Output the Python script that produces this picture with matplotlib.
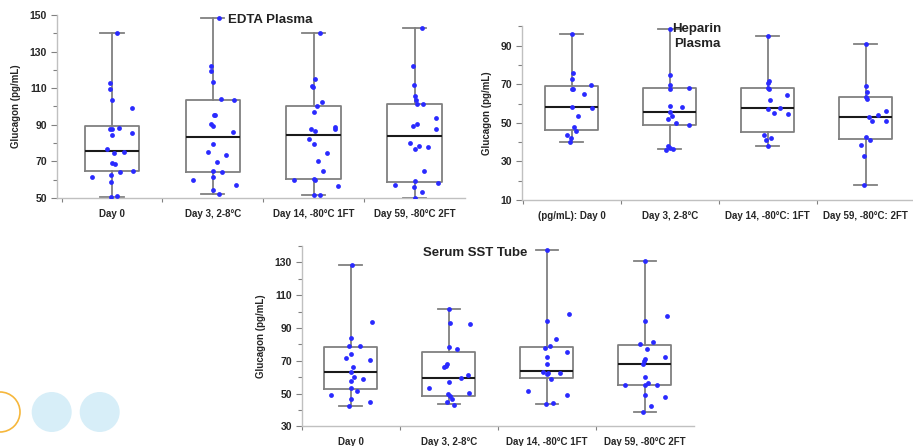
import matplotlib
matplotlib.use("Agg")
import matplotlib.pyplot as plt
from matplotlib.patches import Circle
from matplotlib.ticker import FixedLocator
from matplotlib import font_manager

names = {f.name for f in font_manager.fontManager.ttflist}
fam = [n for n in ['Liberation Sans Narrow', 'Liberation Sans', 'DejaVu Sans'] if n in names]
plt.rcParams['font.family'] = fam
plt.rcParams['font.weight'] = 'bold'

# ---------------- data ----------------
labels_edta = ["Day 0", "Day 3, 2-8°C", "Day 14, -80°C 1FT", "Day 59, -80°C 2FT"]
labels_hep = ["(pg/mL): Day 0", "Day 3, 2-8°C", "Day 14, -80°C: 1FT", "Day 59, -80°C: 2FT"]
labels_sst = ["Day 0", "Day 3, 2-8°C", "Day 14, -80°C 1FT", "Day 59, -80°C 2FT"]

# box stats: (min, q1, median, q3, max)
edta_box = [(50.4, 64.5, 75.8, 89.5, 140.0),
            (52.4, 64.0, 83.1, 103.6, 148.5),
            (51.5, 60.5, 84.5, 100.5, 140.0),
            (50.0, 58.9, 83.8, 101.6, 143.1)]
hep_box = [(40.1, 46.2, 58.0, 69.1, 96.3),
           (36.3, 48.8, 55.6, 67.9, 98.7),
           (37.8, 45.3, 57.5, 67.9, 95.2),
           (18.0, 41.8, 53.1, 63.2, 90.9)]
sst_box = [(42.4, 52.6, 63.1, 78.2, 128.4),
           (43.4, 48.7, 59.6, 75.1, 101.5),
           (43.4, 59.3, 63.5, 78.5, 137.5),
           (38.5, 55.0, 68.2, 79.4, 131.0)]

# individual points
edta_pts = [
    [140, 112.7, 109.8, 103.3, 99.1, 87.5, 87.5, 88.5, 84.5, 85.3, 76.7, 74.4, 75.1, 69.3, 68.4, 64.7, 64.4, 61.6, 62.5, 58.9, 51.3, 50.4],
    [148.5, 122.4, 119.6, 113.6, 104, 103.6, 95.1, 95.5, 90.5, 89.5, 86.2, 79.5, 74.9, 73.6, 69.5, 64.9, 64.2, 61.5, 59.6, 56.9, 54.2, 52.4],
    [140, 114.9, 111.3, 110.5, 102.4, 100.4, 96.9, 87.8, 86.7, 88.9, 87.6, 82.2, 79.3, 74.5, 70.4, 65, 59.8, 60.5, 60, 56.4, 51.5, 51.5],
    [143.1, 122.4, 112, 105.8, 103.6, 101.6, 101.6, 93.8, 87.6, 89.6, 90.2, 80.2, 76.9, 78.5, 77.6, 64.9, 57.3, 59.1, 58.4, 55.8, 53.3, 50],
]
edta_jit = [
    [0.05, -0.02, -0.02, 0, 0.20, -0.02, 0, 0.07, 0, 0.20, -0.05, 0.02, 0.12, 0, 0.03, 0.21, 0.08, -0.20, -0.01, -0.01, 0.05, -0.01],
    [0.06, -0.02, -0.02, 0, 0.08, 0.21, 0.01, 0.02, -0.02, 0, 0.20, 0, -0.05, 0.13, 0.04, 0, 0.09, 0, -0.20, 0.23, 0, 0.06],
    [0.06, 0.01, -0.02, -0.01, 0.08, 0.03, 0, -0.03, 0.01, 0.21, 0.21, -0.05, 0, 0.13, 0.04, 0.09, -0.20, 0, 0.01, 0.24, 0, 0.06],
    [0.07, -0.02, -0.01, 0, 0.01, 0.02, 0.08, 0.21, 0.21, -0.02, 0.02, -0.05, 0, 0.04, 0.13, 0.09, -0.19, 0, 0.23, -0.01, 0.07, 0],
]
hep_pts = [
    [96.3, 75.7, 72.8, 67.4, 67.4, 69.7, 64.8, 58, 57.8, 53.7, 47.6, 45.8, 43.7, 42.2, 40.1],
    [98.7, 75, 69.5, 67.4, 67.9, 58.7, 58, 55.4, 53.5, 52.1, 50, 48.8, 37.8, 36.8, 36.6, 36.1],
    [95.2, 71.9, 70.5, 67.9, 67.4, 64.4, 61.8, 57, 57.5, 54.9, 54.5, 43.6, 42.2, 41, 37.8],
    [90.9, 69.1, 66.2, 63.2, 62.3, 56.1, 54.3, 53.1, 51, 51, 42.7, 41.3, 38.7, 32.8, 18],
]
hep_jit = [
    [0, 0.01, 0, 0, 0.01, 0.20, 0.13, 0, 0.21, 0.06, 0.02, 0.04, -0.05, -0.01, -0.02],
    [0, 0, 0, 0, 0.20, 0, 0.13, 0, 0.02, -0.02, 0.06, 0.20, -0.02, 0, 0.03, -0.04],
    [0, 0.01, 0, 0, 0.01, 0.20, 0.02, 0, 0.13, 0.06, 0.21, -0.04, 0.03, -0.02, 0],
    [0, 0, 0.01, 0, 0.01, 0.21, 0.13, 0.03, 0.06, 0.21, 0, 0.04, -0.05, -0.02, -0.02],
]
sst_pts = [
    [128.4, 93.4, 83.8, 79, 79, 73.9, 71.8, 70.4, 66.2, 63.1, 60.2, 58.6, 57.4, 53.5, 51.7, 48.9, 44.8, 46.6, 42.4],
    [101.5, 92.8, 92.2, 78.2, 77, 68, 67, 66.3, 59.3, 61.3, 56.8, 53.4, 50.3, 49.7, 48.5, 46.5, 45, 43.2],
    [137.5, 98.5, 94.4, 83, 79, 77.9, 75.1, 72.4, 67.8, 63.3, 62.3, 61.7, 62.5, 58.8, 48.9, 44.4, 43.4, 51.7],
    [131, 97.4, 94.4, 81.4, 80, 77, 72.1, 71, 70, 68, 60.2, 56.6, 55.2, 55.2, 55.2, 48, 49.3, 42.6, 38.5],
]
sst_jit = [
    [0.01, 0.22, 0, -0.02, 0.09, 0, -0.05, 0.20, 0.02, 0, 0.03, 0.12, 0, 0, 0.06, -0.20, 0.20, 0, -0.02],
    [0, 0.01, 0.22, 0, 0.08, -0.02, -0.03, -0.05, 0.12, 0.20, 0, -0.20, 0.21, -0.01, 0.01, 0.03, -0.02, 0.05],
    [0, 0.23, 0, 0.09, 0.03, -0.02, 0.20, 0, 0, -0.04, 0.01, 0, 0.13, 0.04, 0.21, 0.06, -0.01, -0.19],
    [0, 0.22, 0, 0.08, -0.05, 0.02, 0.20, 0, -0.01, -0.02, 0, 0.03, -0.20, 0, 0.12, 0.20, 0, 0.06, -0.02],
]

# ---------------- figure ----------------
W, H = 913, 446
fig = plt.figure(figsize=(W / 100, H / 100), dpi=100)

GRAY = '#808080'
TXT = '#262626'
PT = '#2a2aff'


def panel(rect, boxes, pts, jit, labels, ylim, ystep, xlim):
    ax = fig.add_axes(rect)
    stats = []
    for (lo, q1, med, q3, hi) in boxes:
        stats.append(dict(whislo=lo, q1=q1, med=med, q3=q3, whishi=hi, fliers=[]))
    pos = list(range(1, len(boxes) + 1))
    ax.bxp(stats, positions=pos, widths=0.54, showfliers=False,
           boxprops=dict(color=GRAY, linewidth=1.3),
           whiskerprops=dict(color=GRAY, linewidth=1.3),
           capprops=dict(color=GRAY, linewidth=1.3),
           medianprops=dict(color='#1a1a1a', linewidth=1.5),
           capwidths=0.23, zorder=2)
    for i, (vals, js) in enumerate(zip(pts, jit)):
        xs = [pos[i] + j for j in js]
        ax.scatter(xs, vals, s=12, color=PT, zorder=3, linewidths=0)
    ax.set_xlim(*xlim)
    ax.set_ylim(*ylim)
    majors = list(range(ylim[0], ylim[1] + 1, ystep))
    ax.yaxis.set_major_locator(FixedLocator(majors))
    ax.yaxis.set_minor_locator(FixedLocator([m + ystep / 2 for m in majors if m + ystep / 2 <= ylim[1]]))
    ax.set_xticks(pos)
    ax.set_xticklabels(labels, fontsize=7, fontweight='bold', color=TXT)
    ax.xaxis.set_minor_locator(FixedLocator([p + 0.5 for p in pos[:-1]] + [pos[0] - 0.5]))
    ax.tick_params(axis='x', which='major', length=0, pad=8)
    ax.tick_params(axis='x', which='minor', length=3, color=GRAY, width=0.8)
    ax.tick_params(axis='y', which='major', length=4, color=GRAY, width=0.8,
                   labelsize=7.5, labelcolor=TXT, pad=3)
    ax.tick_params(axis='y', which='minor', length=3, color=GRAY, width=0.8)
    for lab in ax.get_yticklabels():
        lab.set_fontweight('bold')
    for s in ['top', 'right']:
        ax.spines[s].set_visible(False)
    for s in ['left', 'bottom']:
        ax.spines[s].set_color('#c0c0c0')
        ax.spines[s].set_linewidth(1.0)
    ax.set_ylabel("Glucagon (pg/mL)", fontsize=7, fontweight='bold', color=TXT, labelpad=6)
    ax.patch.set_alpha(0)
    return ax


def fx(px):
    return px / W


def fy(py):
    return 1 - py / H


# EDTA panel
ax1 = panel([fx(56.5), fy(198), fx(465 - 56.5), (198 - 15) / H],
            edta_box, edta_pts, edta_jit, labels_edta, (50, 150), 20, (0.45, 4.5))
fig.text(fx(270), fy(20), "EDTA Plasma", ha='center', va='center', fontsize=9.5,
         fontweight='bold', color='#222222')

# Heparin panel
ax2 = panel([fx(521.7), fy(200), fx(913 - 521.7), (200 - 26.4) / H],
            hep_box, hep_pts, hep_jit, labels_hep, (10, 100), 20, (0.49, 4.483))
fig.text(fx(697), fy(36.5), "Heparin\nPlasma", ha='center', va='center', fontsize=9.5,
         fontweight='bold', color='#222222', linespacing=1.25)

# SST panel
ax3 = panel([fx(301.7), fy(426.3), fx(694 - 301.7), (426.3 - 245.9) / H],
            sst_box, sst_pts, sst_jit, labels_sst, (30, 140), 20, (0.5, 4.5))
fig.text(fx(475), fy(253), "Serum SST Tube", ha='center', va='center', fontsize=9.5,
         fontweight='bold', color='#222222')

# decorative circles (pixel coordinates)
fig.patches.append(Circle((0, H - 412), 20, transform=None, fill=False,
                          edgecolor='#f6b73c', linewidth=1.2))
for cx in (51.7, 99.7):
    fig.patches.append(Circle((cx, H - 412), 20, transform=None,
                              facecolor='#d7eef8', edgecolor='none'))

fig.savefig("out.png", dpi=100)
